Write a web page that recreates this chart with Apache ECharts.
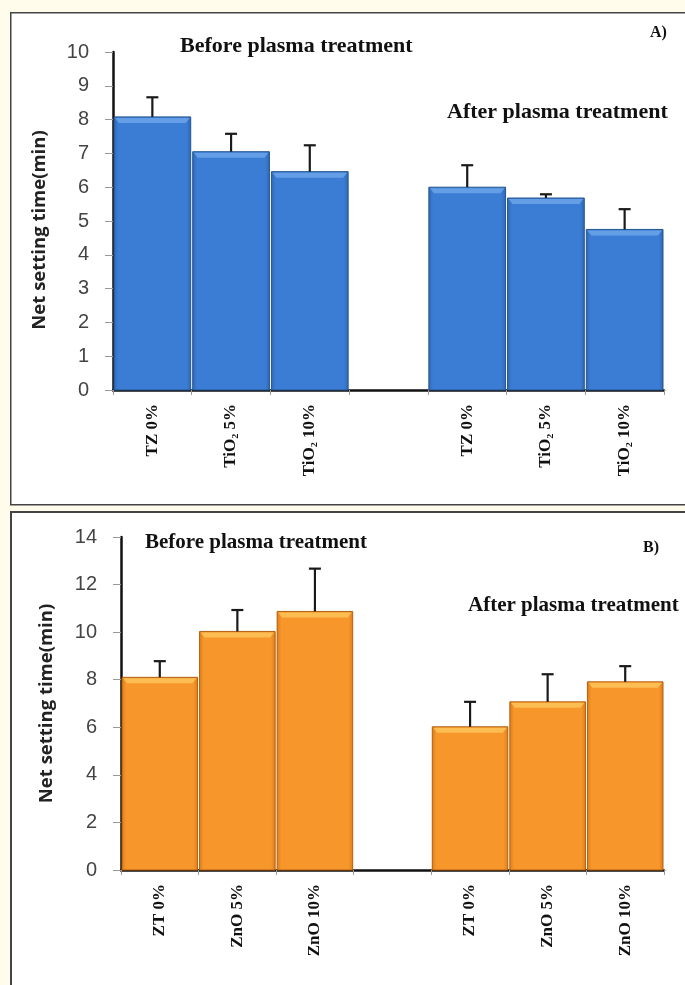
<!DOCTYPE html>
<html>
<head>
<meta charset="utf-8">
<script src="https://cdn.jsdelivr.net/npm/echarts@6/dist/echarts.min.js"></script>
<style>
  html, body { margin: 0; padding: 0; background: #fffcec; }
  #chart { width: 685px; height: 985px; }
</style>
</head>
<body>
<div id="chart"></div>
<script>
// Panel A: TZ / TiO2 samples, before and after plasma treatment
const categoriesA = ['TZ 0%', 'TiO₂ 5%', 'TiO₂ 10%', '', 'TZ 0%', 'TiO₂ 5%', 'TiO₂ 10%'];
const valuesA = [8.08, 7.05, 6.46, null, 6.0, 5.68, 4.75];
const errorsA = [0.58, 0.53, 0.78, null, 0.65, 0.11, 0.6];
const ticksA = { min: 0, max: 10, interval: 1 };

// Panel B: ZT / ZnO samples, before and after plasma treatment
const categoriesB = ['ZT 0%', 'ZnO 5%', 'ZnO 10%', '', 'ZT 0%', 'ZnO 5%', 'ZnO 10%'];
const valuesB = [8.1, 10.03, 10.87, null, 6.02, 7.07, 7.91];
const errorsB = [0.68, 0.9, 1.8, null, 1.05, 1.16, 0.66];
const ticksB = { min: 0, max: 14, interval: 2 };

const yTitle = 'Net setting time(min)';
const beforeLabel = 'Before plasma treatment';
const afterLabel = 'After plasma treatment';

const blue = { edge: '#24558f', dark: '#2f66b0', mid: '#3b7dd4', light: '#6ea6ea' };
const orange = { edge: '#b05f0e', dark: '#dc7c16', mid: '#f7962a', light: '#fcc75e' };

const G = echarts.graphic;

function barData(values) {
  return values.map((v, i) => [i, v]);
}
function errData(values, errs) {
  return values.map((v, i) => [i, v, errs[i]]);
}

// Bars with a bevelled top edge and darker sides
function bevelBar(p) {
  return function (params, api) {
    const v = api.value(1);
    if (v == null || isNaN(v)) return;
    const top = api.coord([api.value(0), v]);
    const base = api.coord([api.value(0), 0]);
    const w = api.size([1, 0])[0];
    const x = top[0] - w / 2 + 1;
    const width = w - 2;
    const h = base[1] - top[1];
    const body = new G.LinearGradient(0, 0, 1, 0, [
      { offset: 0, color: p.dark },
      { offset: 0.06, color: p.mid },
      { offset: 0.94, color: p.mid },
      { offset: 1, color: p.dark }
    ]);
    return {
      type: 'group',
      children: [
        { type: 'rect', shape: { x: x, y: top[1], width: width, height: h },
          style: { fill: body, stroke: p.edge, lineWidth: 1 } },
        { type: 'polygon',
          shape: { points: [[x + 1, top[1] + 1], [x + width - 1, top[1] + 1],
                            [x + width - 5, top[1] + 6], [x + 5, top[1] + 6]] },
          style: { fill: p.light, opacity: 0.8 } }
      ]
    };
  };
}

// Upper error whisker with a cap
function whisker(params, api) {
  const v = api.value(1);
  const e = api.value(2);
  if (v == null || isNaN(v) || e == null || isNaN(e)) return;
  const lo = api.coord([api.value(0), v]);
  const hi = api.coord([api.value(0), v + e]);
  const style = { stroke: '#1a1a1a', lineWidth: 2.2 };
  return {
    type: 'group',
    children: [
      { type: 'line', shape: { x1: lo[0], y1: lo[1], x2: hi[0], y2: hi[1] }, style: style },
      { type: 'line', shape: { x1: hi[0] - 6, y1: hi[1], x2: hi[0] + 6, y2: hi[1] }, style: style }
    ]
  };
}

function xAxis(gridIndex, cats) {
  return {
    type: 'category', gridIndex: gridIndex, data: cats, boundaryGap: true,
    axisLine: { lineStyle: { color: '#111', width: 2.5 } },
    axisTick: { show: true, length: 5, lineStyle: { color: '#999', width: 1 } },
    axisLabel: { rotate: 90, margin: 14, color: '#111', fontFamily: 'Liberation Serif',
                 fontWeight: 'bold', fontSize: 17, interval: 0 }
  };
}
function yAxis(gridIndex, t, gap, pad) {
  return {
    type: 'value', gridIndex: gridIndex, min: t.min, max: t.max, interval: t.interval,
    name: yTitle, nameLocation: 'middle', nameGap: gap, nameRotate: 90,
    nameTextStyle: { fontFamily: 'Open Sans', fontWeight: 'bold', fontSize: 18.5, color: '#222',
                     padding: pad },
    axisLine: { show: true, lineStyle: { color: '#111', width: 2.5 } },
    axisTick: { show: true, length: 8, lineStyle: { color: '#999', width: 1 } },
    axisLabel: { margin: 24, color: '#444', fontFamily: 'Liberation Sans', fontSize: 20 },
    splitLine: { show: false }
  };
}

function note(text, x, y, size) {
  return { type: 'text', left: x, top: y, z: 100,
           style: { text: text, fill: '#111', font: 'bold ' + size + 'px "Liberation Serif"' } };
}

const chart = echarts.init(document.getElementById('chart'), null, { renderer: 'canvas' });
chart.setOption({
  backgroundColor: '#fffcec',
  animation: false,
  grid: [
    { left: 113, top: 52, width: 551, height: 338 },
    { left: 121, top: 537, width: 543, height: 333 }
  ],
  xAxis: [xAxis(0, categoriesA), xAxis(1, categoriesB)],
  yAxis: [yAxis(0, ticksA, 64, [0, 18, 0, 0]), yAxis(1, ticksB, 65, [0, 0, 0, 0])],
  graphic: [
    { type: 'rect', left: 10, top: 12, z: -10, shape: { width: 690, height: 492 },
      style: { fill: '#ffffff', stroke: '#444', lineWidth: 1.5 } },
    { type: 'rect', left: 10, top: 511, z: -10, shape: { width: 690, height: 490 },
      style: { fill: '#ffffff', stroke: '#444', lineWidth: 2 } },
    note(beforeLabel, 180, 35, 22),
    note(afterLabel, 447, 101, 22),
    note('A)', 650, 25, 16),
    note(beforeLabel, 145, 532, 21),
    note(afterLabel, 468, 595, 21),
    note('B)', 643, 540, 16)
  ],
  series: [
    { type: 'custom', xAxisIndex: 0, yAxisIndex: 0, renderItem: bevelBar(blue),
      data: barData(valuesA), encode: { x: 0, y: 1 }, z: 2 },
    { type: 'custom', xAxisIndex: 0, yAxisIndex: 0, renderItem: whisker,
      data: errData(valuesA, errorsA), encode: { x: 0, y: [1, 2] }, z: 3 },
    { type: 'custom', xAxisIndex: 1, yAxisIndex: 1, renderItem: bevelBar(orange),
      data: barData(valuesB), encode: { x: 0, y: 1 }, z: 2 },
    { type: 'custom', xAxisIndex: 1, yAxisIndex: 1, renderItem: whisker,
      data: errData(valuesB, errorsB), encode: { x: 0, y: [1, 2] }, z: 3 }
  ]
});
</script>
</body>
</html>
